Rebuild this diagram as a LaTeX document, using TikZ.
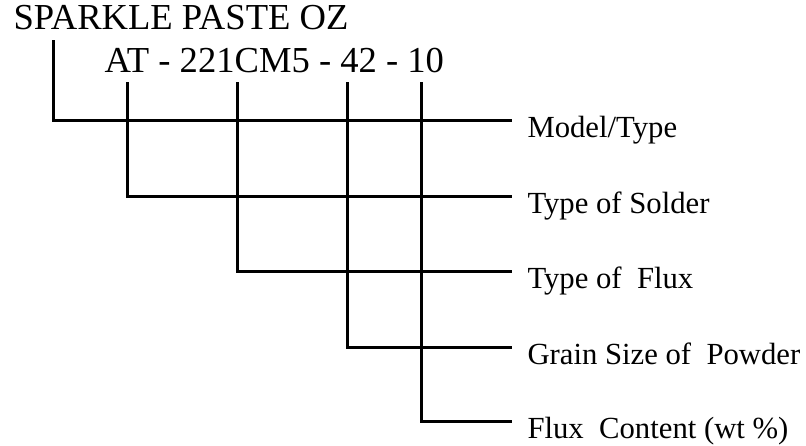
\documentclass[tikz,border=0pt]{standalone}
\usepackage{fontspec}
\setmainfont{Liberation Serif}

\begin{document}
\begin{tikzpicture}[x=1pt,y=-1pt,line width=3pt,
        title/.style={anchor=base west,inner sep=0pt,font=\fontsize{36.6}{40}\selectfont},
        lab/.style={anchor=base west,inner sep=0pt,font=\fontsize{30.7}{36}\selectfont}]
            \useasboundingbox (0,0) rectangle (806,445);

            \node[title] (name) at (12,29) {SPARKLE PASTE OZ};
            \node[title] (code) at (103,72) {AT - 221CM5 - 42 - 10};

            \coordinate (t1) at (53,40);
            \coordinate (t2) at (127,82);
            \coordinate (t3) at (237,82);
            \coordinate (t4) at (347,82);
            \coordinate (t5) at (421,82);

            \coordinate (e1) at (512,120);
            \coordinate (e2) at (512,196);
            \coordinate (e3) at (512,271);
            \coordinate (e4) at (512,347);
            \coordinate (e5) at (512,421);

            \node[lab] (l1) at (526,137) {Model/Type};
            \node[lab] (l2) at (526,213) {Type of Solder};
            \node[lab] (l3) at (526,288) {Type of~ Flux};
            \node[lab] (l4) at (526,364) {Grain Size of~ Powder};
            \node[lab] (l5) at (526,438) {Flux~ Content (wt \%)};

            \draw (t1) |- (e1);
            \draw (t2) |- (e2);
            \draw (t3) |- (e3);
            \draw (t4) |- (e4);
            \draw (t5) |- (e5);
        \end{tikzpicture}
\end{document}
